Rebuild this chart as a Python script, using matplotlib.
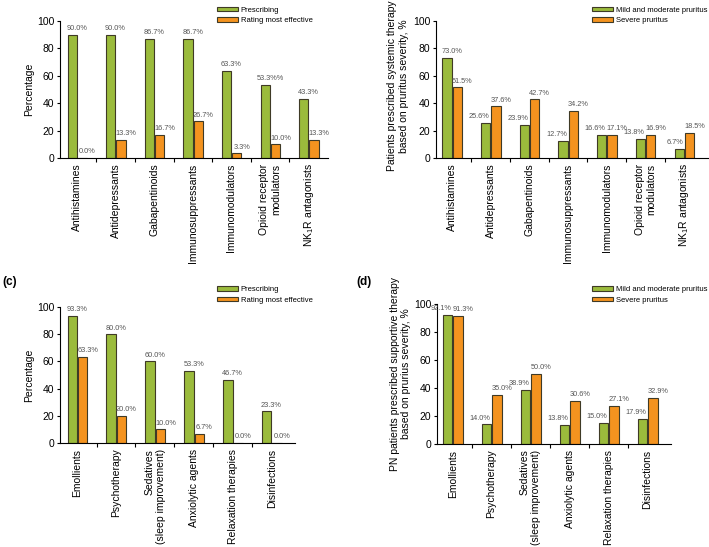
import matplotlib
matplotlib.use("Agg")
from matplotlib import pyplot as plt
from matplotlib.patches import Patch
import numpy as np

plt.rcParams['font.family'] = ['Liberation Sans', 'DejaVu Sans']
plt.rcParams['mathtext.default'] = 'regular'

GREEN = '#9bbb3c'
ORANGE = '#f4931f'
EDGE = '#3f3a26'
LABEL_GRAY = '#555555'

# (a) systemic therapy, prescribing vs rated most effective
sys_cats = ['Antihistamines', 'Antidepressants', 'Gabapentinoids', 'Immunosuppressants',
            'Immunomodulators', 'Opioid receptor\nmodulators', 'NK$_1$R antagonists']
a_prescribing = [90.0, 90.0, 86.7, 86.7, 63.3, 53.3, 43.3]
a_effective = [0.0, 13.3, 16.7, 26.7, 3.3, 10.0, 13.3]
a_prescribing_txt = ['90.0%', '90.0%', '86.7%', '86.7%', '63.3%', '53.3%%', '43.3%']

# (b) systemic therapy by pruritus severity
b_mild = [73.0, 25.6, 23.9, 12.7, 16.6, 13.8, 6.7]
b_severe = [51.5, 37.6, 42.7, 34.2, 17.1, 16.9, 18.5]

# (c) supportive therapy, prescribing vs rated most effective
sup_cats = ['Emollients', 'Psychotherapy', 'Sedatives\n(sleep improvement)', 'Anxiolytic agents',
            'Relaxation therapies', 'Disinfections']
c_prescribing = [93.3, 80.0, 60.0, 53.3, 46.7, 23.3]
c_effective = [63.3, 20.0, 10.0, 6.7, 0.0, 0.0]

# (d) supportive therapy by pruritus severity
d_mild = [92.1, 14.0, 38.9, 13.8, 15.0, 17.9]
d_severe = [91.3, 35.0, 50.0, 30.6, 27.1, 32.9]

W = 0.24
OFF_G = -0.125
OFF_O = 0.14


def fmt(vals):
    return ['%.1f%%' % v for v in vals]


def panel(ax, cats, green, orange, green_txt, orange_txt, xlim, ylabel, legend_labels,
          legend_pos, shifted, label_y=None):
    x = np.arange(len(cats))
    ax.bar(x + OFF_G, green, W, color=GREEN, edgecolor=EDGE, linewidth=0.8, zorder=2)
    ax.bar(x + OFF_O, orange, W, color=ORANGE, edgecolor=EDGE, linewidth=0.8, zorder=2)

    # value labels; in the severity panels the green label moves left of the pair
    for i in range(len(cats)):
        g, o = green[i], orange[i]
        if shifted and (g < o or abs(g - o) < 3):
            ax.text(x[i] + OFF_G + 0.1, g + 2, green_txt[i], ha='right', va='bottom',
                    fontsize=5.3, color=LABEL_GRAY)
        else:
            ax.text(x[i] + OFF_G + 0.12, g + 2, green_txt[i], ha='center', va='bottom',
                    fontsize=5.3, color=LABEL_GRAY)
        ax.text(x[i] + OFF_O + 0.13, o + 2, orange_txt[i], ha='center', va='bottom',
                fontsize=5.3, color=LABEL_GRAY)

    ax.set_xlim(*xlim)
    ax.set_ylim(0, 100)
    ax.set_yticks([0, 20, 40, 60, 80, 100])
    ax.tick_params(axis='y', labelsize=7.5, length=2, width=0.8, pad=2)
    ax.set_xticks(x)
    ax.set_xticklabels(cats, rotation=90, fontsize=7.5, ha='center', va='top')
    for lab in ax.get_xticklabels():
        lab.set_multialignment('right')
    ax.tick_params(axis='x', which='major', length=0, pad=4)
    ax.set_xticks(x[:-1] + 0.5, minor=True)
    ax.tick_params(axis='x', which='minor', length=3, width=0.8)
    for s in ['top', 'right']:
        ax.spines[s].set_visible(False)
    for s in ['left', 'bottom']:
        ax.spines[s].set_linewidth(0.8)
    ax.set_ylabel(ylabel, fontsize=7.5, labelpad=2)
    if label_y is not None:
        ax.yaxis.set_label_coords(-0.1, label_y)

    handles = [Patch(facecolor=GREEN, edgecolor=EDGE, linewidth=0.8),
               Patch(facecolor=ORANGE, edgecolor=EDGE, linewidth=0.8)]
    ax.legend(handles, legend_labels, loc='upper left', bbox_to_anchor=legend_pos,
              bbox_transform=ax.figure.transFigure, frameon=False, fontsize=5.5,
              handlelength=2.7, handleheight=0.55, handletextpad=0.4, labelspacing=0.45,
              borderpad=0, borderaxespad=0)


fig = plt.figure(figsize=(7.09, 5.47), dpi=100)

ax_a = fig.add_axes([0.0846, 0.7112, 0.378, 0.2505])
panel(ax_a, sys_cats, a_prescribing, a_effective, a_prescribing_txt, fmt(a_effective),
      (-0.44, 6.5), 'Percentage', ['Prescribing', 'Rating most effective'],
      (0.306, 0.988), False)

ax_b = fig.add_axes([0.615, 0.7112, 0.3836, 0.2505])
panel(ax_b, sys_cats, b_mild, b_severe, fmt(b_mild), fmt(b_severe),
      (-0.41, 6.62),
      'Patients prescribed systemic therapy\nbased on pruritus severity, %',
      ['Mild and moderate pruritus', 'Severe pruritus'], (0.835, 0.988), True,
      label_y=0.525)

ax_c = fig.add_axes([0.0846, 0.190, 0.3315, 0.2486])
panel(ax_c, sup_cats, c_prescribing, c_effective, fmt(c_prescribing), fmt(c_effective),
      (-0.44, 5.6), 'Percentage', ['Prescribing', 'Rating most effective'],
      (0.306, 0.477), False)

ax_d = fig.add_axes([0.6164, 0.1883, 0.330, 0.2560])
panel(ax_d, sup_cats, d_mild, d_severe, fmt(d_mild), fmt(d_severe),
      (-0.40, 5.6),
      'PN patients prescribed supportive therapy\nbased on prurius severity, %',
      ['Mild and moderate pruritus', 'Severe pruritus'], (0.835, 0.477), True)

fig.text(0.004, 0.474, '(c)', fontsize=8.5, fontweight='bold', va='bottom')
fig.text(0.502, 0.474, '(d)', fontsize=8.5, fontweight='bold', va='bottom')

fig.savefig('out.png', dpi=100)
